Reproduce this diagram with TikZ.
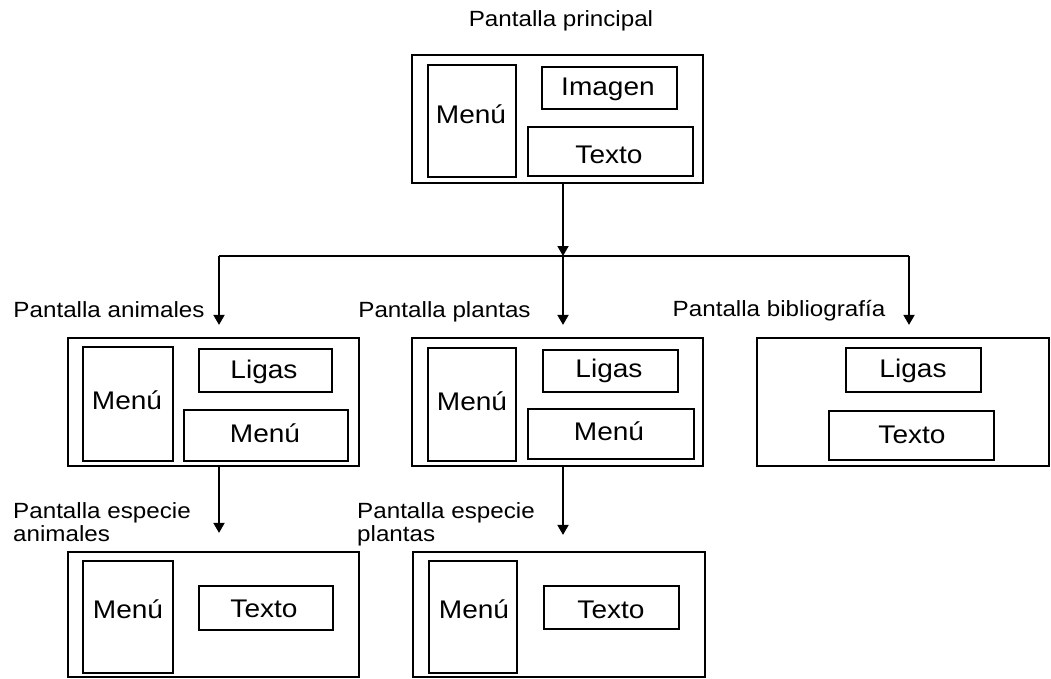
\documentclass[tikz,border=0pt]{standalone}
\usepackage{fontspec}
\newfontfamily\diafont[FakeStretch=1.1]{Liberation Sans}
\usetikzlibrary{arrows.meta}

\begin{document}
\begin{tikzpicture}[x=1pt, y=-1pt,
  frame/.style={draw, line width=2.2pt, rectangle, inner sep=0pt},
  part/.style={draw, line width=2pt, rectangle, inner sep=0pt},
  lbl/.style={font=\diafont\fontsize{22pt}{22.5pt}\selectfont, inner sep=0pt, anchor=base},
  txt/.style={font=\diafont\fontsize{25.5pt}{28pt}\selectfont, inner sep=0pt, anchor=base},
  wire/.style={line width=1.8pt},
  arr/.style={line width=1.8pt, -{Triangle[width=11pt,length=10pt]}}
]
\useasboundingbox (0,0) rectangle (1051,678);

% ---------- main screen ----------
\node[lbl] (tMain) at (561,26) {Pantalla principal};
\node[frame, minimum width=291pt, minimum height=128pt] (main) at (557.5,119) {};
\node[part, minimum width=88pt, minimum height=112pt] (mainMenu) at (472,121) {};
\node[part, minimum width=135pt, minimum height=42pt] (mainImg) at (609.5,88) {};
\node[part, minimum width=165pt, minimum height=49pt] (mainTxt) at (610.5,151.5) {};
\node[txt] (mainMenuT) at (471,123) {Menú};
\node[txt] (mainImgT) at (608,95) {Imagen};
\node[txt] (mainTxtT) at (609,163) {Texto};

% ---------- animals screen ----------
\node[lbl] (tAnim) at (109,317) {Pantalla animales};
\node[frame, minimum width=291pt, minimum height=128pt] (anim) at (213.5,402) {};
\node[part, minimum width=90pt, minimum height=114pt] (animMenu) at (127.5,404) {};
\node[part, minimum width=133pt, minimum height=43pt] (animLig) at (265.5,370.5) {};
\node[part, minimum width=164pt, minimum height=51pt] (animSub) at (266,435.5) {};
\node[txt] (animMenuT) at (127,409) {Menú};
\node[txt] (animLigT) at (264,378) {Ligas};
\node[txt] (animSubT) at (265,442) {Menú};

% ---------- plants screen ----------
\node[lbl] (tPlant) at (444.5,317) {Pantalla plantas};
\node[frame, minimum width=291pt, minimum height=128pt] (plant) at (557.5,402) {};
\node[part, minimum width=88pt, minimum height=113pt] (plantMenu) at (472,404) {};
\node[part, minimum width=135pt, minimum height=42pt] (plantLig) at (610.5,371) {};
\node[part, minimum width=166pt, minimum height=50pt] (plantSub) at (611,434) {};
\node[txt] (plantMenuT) at (472,410) {Menú};
\node[txt] (plantLigT) at (609,377) {Ligas};
\node[txt] (plantSubT) at (609,440) {Menú};

% ---------- bibliography screen ----------
\node[lbl] (tBib) at (779,316) {Pantalla bibliografía};
\node[frame, minimum width=292pt, minimum height=128pt] (bib) at (903,402) {};
\node[part, minimum width=135pt, minimum height=44pt] (bibLig) at (913.5,370) {};
\node[part, minimum width=165pt, minimum height=49pt] (bibTxt) at (911.5,435.5) {};
\node[txt] (bibLigT) at (913,377) {Ligas};
\node[txt] (bibTxtT) at (912,443) {Texto};

% ---------- species screens ----------
\node[lbl, anchor=base west, align=left] (tSpA) at (13,541) {Pantalla especie\\animales};
\node[frame, minimum width=291pt, minimum height=125pt] (spA) at (213.5,614.5) {};
\node[part, minimum width=90pt, minimum height=112pt] (spAMenu) at (128,617) {};
\node[part, minimum width=134pt, minimum height=44pt] (spATxt) at (266,608) {};
\node[txt] (spAMenuT) at (128,618) {Menú};
\node[txt] (spATxtT) at (264,617) {Texto};

\node[lbl, anchor=base west, align=left] (tSpP) at (357,541) {Pantalla especie\\plantas};
\node[frame, minimum width=292pt, minimum height=125pt] (spP) at (559,614.5) {};
\node[part, minimum width=88pt, minimum height=112pt] (spPMenu) at (473,617) {};
\node[part, minimum width=135pt, minimum height=43pt] (spPTxt) at (611.5,607.5) {};
\node[txt] (spPMenuT) at (474,618) {Menú};
\node[txt] (spPTxtT) at (611,618) {Texto};

% ---------- connectors ----------
\coordinate (j)  at (563,256);
\coordinate (ja) at (219,256);
\coordinate (jb) at (909,256);
\draw[arr] (main.south -| j) -- (j);
\draw[wire] (ja) -- (jb);
\draw[arr, shorten >=12pt] (ja) -- (ja |- anim.north);
\draw[arr, shorten >=12pt] (j) -- (j |- plant.north);
\draw[arr, shorten >=12pt] (jb) -- (jb |- bib.north);
\draw[arr, shorten >=18pt] (anim.south -| ja) -- (ja |- spA.north);
\draw[arr, shorten >=16pt] (plant.south -| j) -- (j |- spP.north);
\end{tikzpicture}
\end{document}
